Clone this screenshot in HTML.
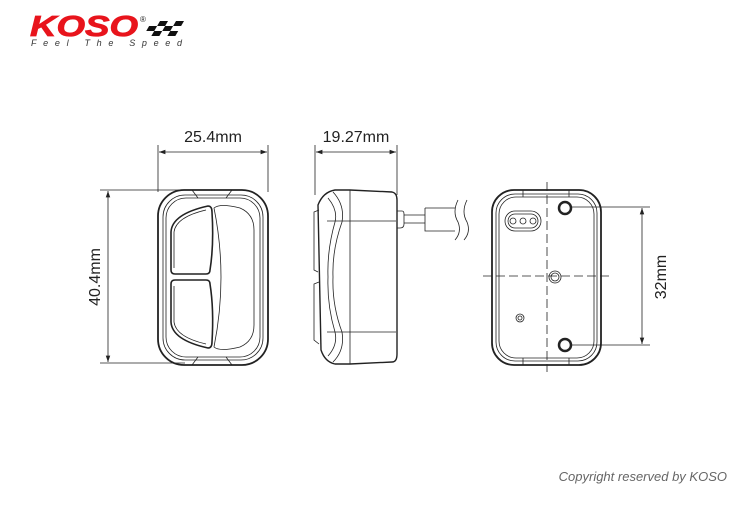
<!DOCTYPE html>
<html><head><meta charset="utf-8"><style>
body{margin:0;background:#fff;width:740px;height:500px;overflow:hidden;font-family:"Liberation Sans",sans-serif}
</style></head><body>
<svg width="740" height="500" viewBox="0 0 740 500" xmlns="http://www.w3.org/2000/svg">
<defs>
<marker id="a" viewBox="0 0 10 10" refX="10" refY="5" markerWidth="8" markerHeight="8" orient="auto-start-reverse"><path d="M0,1.5L10,5L0,8.5z" fill="#222"/></marker>
</defs>
<!-- logo -->
<text x="30" y="36" font-family="Liberation Sans" font-weight="bold" font-style="italic" font-size="29" fill="#e8141c" textLength="108" lengthAdjust="spacingAndGlyphs" stroke="#e8141c" stroke-width="0.8">KOSO</text>
<text x="140" y="22" font-size="8" fill="#222">®</text>
<g fill="#111" transform="translate(150,21) skewX(-30)">
<rect x="10" y="0" width="8" height="5"/><rect x="26" y="0" width="8" height="5"/>
<rect x="2" y="5" width="8" height="5"/><rect x="18" y="5" width="8" height="5"/>
<rect x="10" y="10" width="8" height="5"/><rect x="26" y="10" width="8" height="5"/>
</g>
<text x="31" y="46" font-size="9" font-style="italic" fill="#333" textLength="151" lengthAdjust="spacing">Feel The Speed</text>

<g stroke="#222" fill="none" stroke-width="0.8">
<!-- front dims -->
<line x1="158" y1="145" x2="158" y2="192"/><line x1="268" y1="145" x2="268" y2="192"/>
<line x1="159" y1="152" x2="267" y2="152" marker-start="url(#a)" marker-end="url(#a)"/>
<line x1="100" y1="190" x2="185" y2="190"/><line x1="100" y1="363" x2="185" y2="363"/>
<line x1="108" y1="191" x2="108" y2="362" marker-start="url(#a)" marker-end="url(#a)"/>
<!-- front view -->
<rect x="158" y="190" width="110" height="175" rx="26" stroke-width="1.8"/>
<rect x="163" y="195" width="100" height="165" rx="22"/>
<rect x="166" y="198" width="94" height="159" rx="20"/>
<line x1="192" y1="190" x2="198" y2="198"/><line x1="232" y1="190" x2="226" y2="198"/>
<line x1="192" y1="365" x2="198" y2="357"/><line x1="232" y1="365" x2="226" y2="357"/>
<path d="M171,270 L171,232 Q172,214 208,206 Q212,206 212,212 Q214,245 210,270 Q210,274 206,274 L175,274 Q171,274 171,270Z" stroke-width="1.6"/>
<path d="M174,268 L174,232 Q176,217 206,210"/>
<path d="M171,284 L171,322 Q172,340 208,348 Q212,348 212,342 Q214,309 210,284 Q210,280 206,280 L175,280 Q171,280 171,284Z" stroke-width="1.6"/>
<path d="M174,286 L174,322 Q176,337 206,344"/>
<path d="M214,208 Q220,203 240,208 Q254,214 254,230 L254,325 Q254,341 240,347 Q220,352 214,347 Q228,277 214,208Z"/>
<!-- side dims -->
<line x1="315" y1="145" x2="315" y2="195"/><line x1="397" y1="145" x2="397" y2="195"/>
<line x1="316" y1="152" x2="396" y2="152" marker-start="url(#a)" marker-end="url(#a)"/>
<!-- side view -->
<path d="M350,190 L392,192 Q397,193 397,200 L397,354 Q397,362 392,362 L350,364 L335,364 Q325,362 321,350 L318,205 Q323,192 335,190Z" stroke-width="1.4"/>
<line x1="350" y1="190" x2="350" y2="364"/>
<line x1="327" y1="221" x2="396" y2="221"/><line x1="327" y1="332" x2="396" y2="332"/>
<path d="M333,192 Q345,205 342,222 Q332,250 333,277 Q332,305 342,332 Q345,350 333,362"/>
<path d="M328,198 Q338,210 335,222 Q327,250 328,277 Q327,305 335,332 Q338,345 328,356"/>
<path d="M319,210 L314,212 L314,270 L318,272 M319,282 L314,284 L314,340 L319,344"/>
<path d="M397,211 L402,211 Q404,211 404,214 L404,224 Q404,228 400,228 L397,228"/>
<line x1="404" y1="215" x2="425" y2="215"/><line x1="404" y1="223" x2="425" y2="223"/>
<path d="M425,208 L455,208 M425,208 L425,231 L455,231"/>
<path d="M458,200 Q452,212 458,222 Q462,232 455,240"/>
<path d="M467,200 Q461,212 467,222 Q471,232 464,240"/>
<!-- back view -->
<rect x="492" y="190" width="109" height="175" rx="22" stroke-width="1.8"/>
<rect x="496" y="194" width="101" height="167" rx="19"/>
<rect x="499" y="197" width="95" height="161" rx="17"/>
<line x1="523" y1="190" x2="523" y2="197"/><line x1="569" y1="190" x2="569" y2="197"/>
<line x1="523" y1="358" x2="523" y2="365"/><line x1="569" y1="358" x2="569" y2="365"/>
<line x1="547" y1="182" x2="547" y2="372" stroke-dasharray="9,4"/>
<line x1="483" y1="276" x2="610" y2="276" stroke-dasharray="9,4"/>
<circle cx="565" cy="208" r="6" stroke-width="2.5"/><circle cx="565" cy="345" r="6" stroke-width="2.5"/>
<circle cx="555" cy="277" r="6"/><circle cx="555" cy="277" r="4"/>
<rect x="505" y="211" width="36" height="20" rx="10"/>
<rect x="508" y="214" width="30" height="14" rx="7"/>
<circle cx="513" cy="221" r="3"/><circle cx="523" cy="221" r="3"/><circle cx="533" cy="221" r="3"/>
<circle cx="520" cy="318" r="4"/><circle cx="520" cy="318" r="2"/>
<!-- 32mm -->
<line x1="572" y1="207" x2="650" y2="207"/><line x1="572" y1="345" x2="650" y2="345"/>
<line x1="642" y1="208" x2="642" y2="344" marker-start="url(#a)" marker-end="url(#a)"/>
</g>
<g font-size="16" fill="#222">
<text x="213" y="142" text-anchor="middle">25.4mm</text>
<text x="356" y="142" text-anchor="middle">19.27mm</text>
<text transform="translate(100,277) rotate(-90)" text-anchor="middle">40.4mm</text>
<text transform="translate(666,277) rotate(-90)" text-anchor="middle">32mm</text>
</g>
<text x="727" y="481" text-anchor="end" font-size="13" font-style="italic" fill="#666">Copyright reserved by KOSO</text>
</svg>
</body></html>
